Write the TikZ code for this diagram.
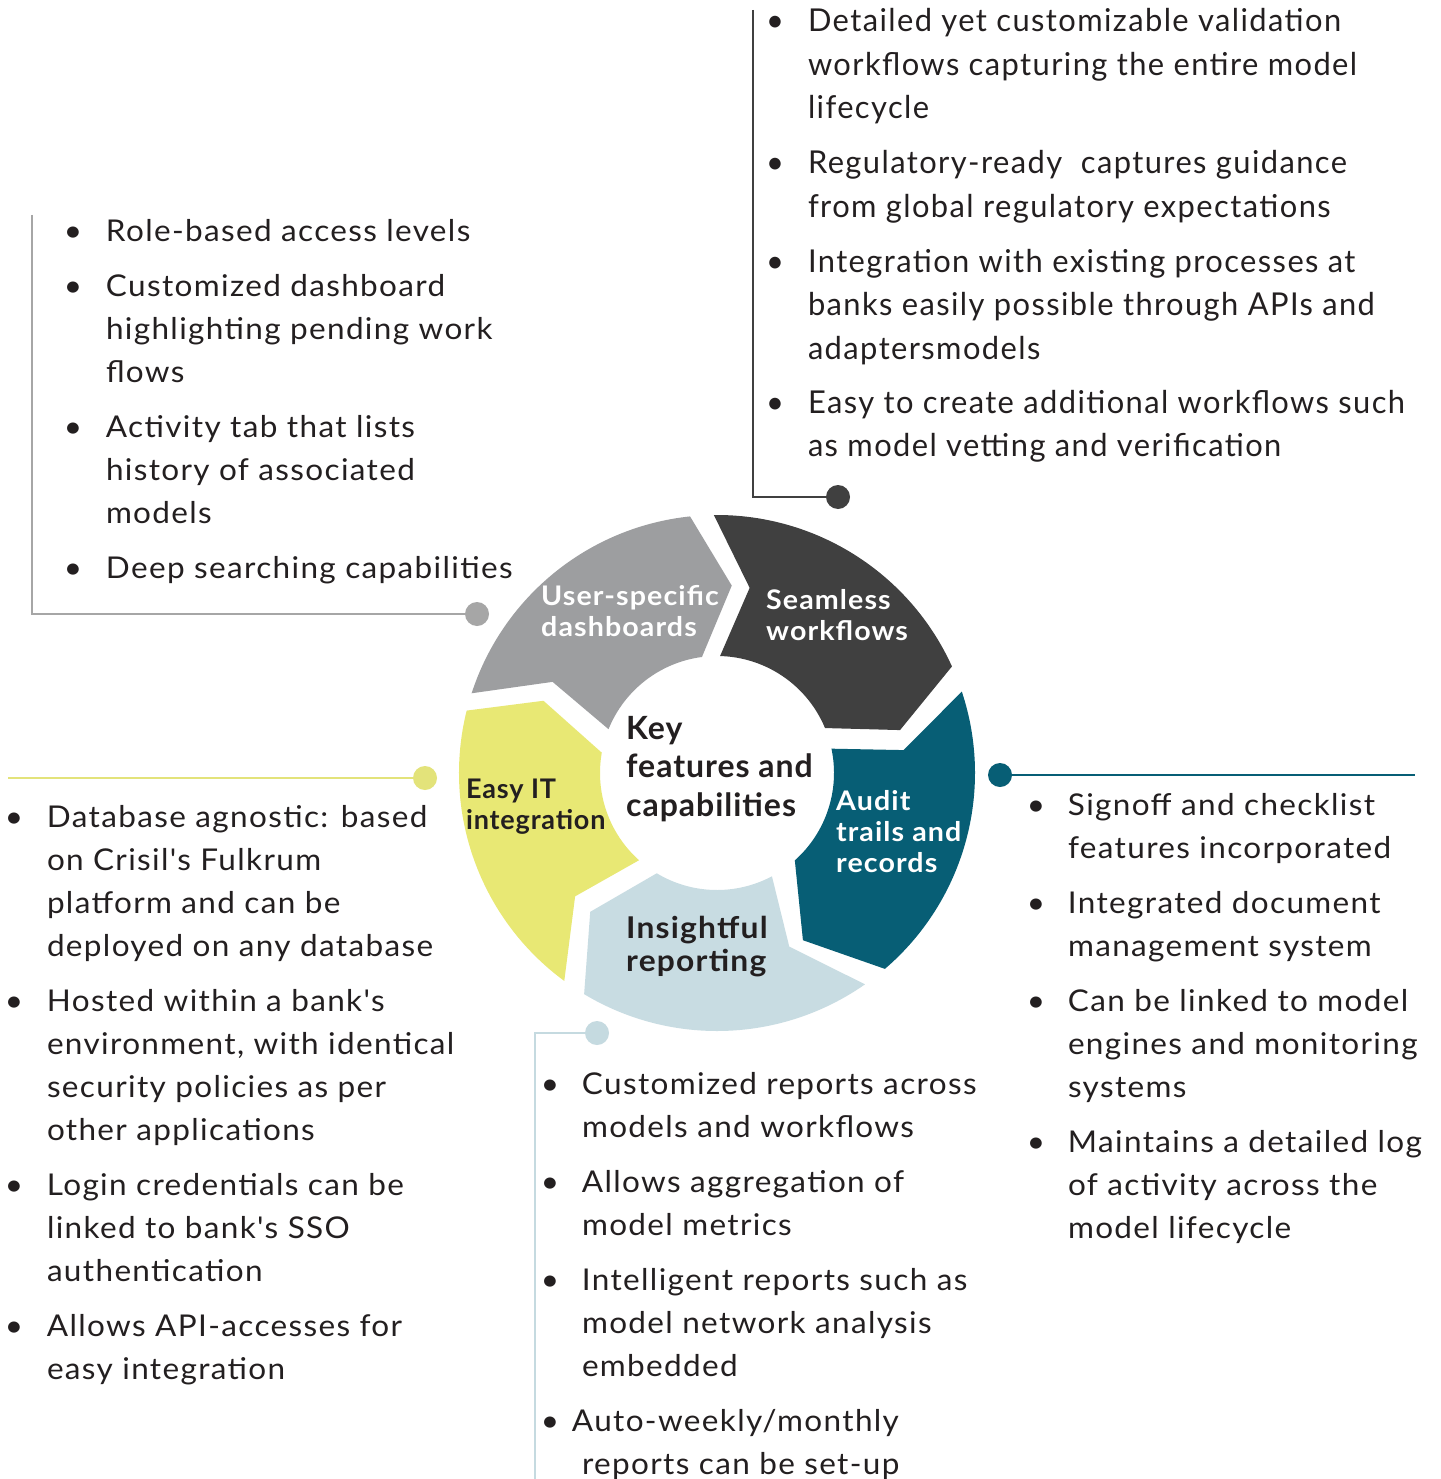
\documentclass[tikz,border=0pt]{standalone}
\usepackage{fontspec}
\setmainfont{Lato}
\newfontfamily\bodyfont[FakeStretch=1.05,LetterSpace=4.5]{Lato}
\newfontfamily\condfont[FakeStretch=0.98,LetterSpace=4.5]{Lato}
\newfontfamily\labfont[FakeStretch=1.06,LetterSpace=4]{Lato}
\newfontfamily\keyfont[LetterSpace=3]{Lato}
\definecolor{segGray}{HTML}{9D9EA0}
\definecolor{segDark}{HTML}{404040}
\definecolor{segTeal}{HTML}{075E75}
\definecolor{segBlue}{HTML}{C8DCE2}
\definecolor{segYellow}{HTML}{E8E874}
\definecolor{txt}{HTML}{231F20}
\definecolor{lnGray}{HTML}{A6A6A6}
\definecolor{lnBlue}{HTML}{C5DAE0}
\definecolor{lnYellow}{HTML}{E3E37A}
\newcommand{\ringseg}[7]{\fill[#1] (#2:258pt) arc[start angle=#2,end angle=#5,radius=258pt] -- (#7:188pt) -- (#6:117pt) arc[start angle=#6,end angle=#3,radius=117pt] -- (#4:188pt) -- cycle;}
\newcommand{\lines}[1]{\begin{tabular}[t]{@{}l@{}}#1\end{tabular}}
\newcommand{\bul}{\makebox[0pt]{\textbullet}}
\tikzset{
  item/.style={anchor=base west, inner sep=0pt, outer sep=0pt, text=txt, font=\bodyfont\fontsize{30}{43}\selectfont},
  itemc/.style={item, font=\condfont\fontsize{31.5}{43.5}\selectfont},
  seglabel/.style={anchor=base west, inner sep=0pt, font=\labfont\bfseries\fontsize{27}{31}\selectfont},
  dot/.style={circle, inner sep=0pt, minimum size=24pt},
  leader/.style={line width=2.5pt}
}
\begin{document}
\begin{tikzpicture}[x=1pt,y=-1pt]
\useasboundingbox[fill=white] (0,0) rectangle (1440,1479);
% ring
\begin{scope}[shift={(717,773)}]
\ringseg{segGray}{162}{158}{151}{96}{97.4}{85.5}
\ringseg{segDark}{90.7}{88.5}{80}{24.4}{22.6}{13.2}
\ringseg{segTeal}{18.4}{12}{7}{-49.4}{-48.3}{-62.8}
\ringseg{segBlue}{-55}{-62}{-67.4}{-121}{-121}{-132.4}
\ringseg{segYellow}{-126.3}{-131.8}{-139}{-194}{-190}{-202.6}
\end{scope}
% ring labels
\node[seglabel, text=white] (lUser) at (541,605) {\lines{User-specific\\dashboards}};
\node[seglabel, text=white] (lSeam) at (766,609) {\lines{Seamless\\workflows}};
\node[seglabel, text=white] (lAudit) at (836,810) {\lines{Audit\\trails and\\records}};
\node[seglabel, text=txt, font=\labfont\bfseries\fontsize{30}{33}\selectfont] (lRep) at (626,938) {\lines{Insightful\\reporting}};
\node[seglabel, text=txt, font=\keyfont\bfseries\fontsize{27}{31}\selectfont] (lEasy) at (466,798) {\lines{Easy IT\\integration}};
\node[seglabel, text=txt, font=\keyfont\bfseries\fontsize{32}{38.5}\selectfont] (lKey) at (626,739) {\lines{Key\\features and\\capabilities}};
% leaders
\coordinate (cA) at (32,215);
\node[dot, fill=lnGray] (dA) at (477,614) {};
\draw[leader, lnGray] (cA) |- (dA);
\coordinate (cB) at (753,10);
\node[dot, fill=segDark] (dB) at (838,497) {};
\draw[leader, segDark] (cB) |- (dB);
\node[dot, fill=segTeal] (dC) at (1000,775) {};
\coordinate (cC) at (1415,775);
\draw[leader, segTeal] (dC) -- (cC);
\node[dot, fill=lnBlue] (dD) at (597,1033) {};
\coordinate (cD) at (535,1479);
\draw[leader, lnBlue] (dD) -| (cD);
\coordinate (cE) at (8,778);
\node[dot, fill=lnYellow] (dE) at (425,778) {};
\draw[leader, lnYellow] (cE) -- (dE);
% block A
\node[item] (a1) at (73,241) {\bul\hspace{33pt}\lines{Role-based access levels}};
\node[item] (a2) at (73,296) {\bul\hspace{33pt}\lines{Customized dashboard\\highlighting pending work\\flows}};
\node[item] (a3) at (73,437) {\bul\hspace{33pt}\lines{Activity tab that lists\\history of associated\\models}};
\node[item] (a4) at (73,578) {\bul\hspace{33pt}\lines{Deep searching capabilities}};
% block B
\node[itemc] (b1) at (775,32) {\bul\hspace{33pt}\lines{Detailed yet customizable validation\\workflows capturing the entire model\\lifecycle}};
\node[itemc] (b2) at (775,174) {\bul\hspace{33pt}\lines{Regulatory-ready~ captures guidance\\from global regulatory expectations}};
\node[itemc] (b3) at (775,272) {\bul\hspace{33pt}\lines{Integration with existing processes at\\banks easily possible through APIs and\\adaptersmodels}};
\node[itemc] (b4) at (775,413) {\bul\hspace{33pt}\lines{Easy to create additional workflows such\\as model vetting and verification}};
% block C
\node[item] (c1) at (1036,815) {\bul\hspace{32pt}\lines{Signoff and checklist\\features incorporated}};
\node[item] (c2) at (1036,913) {\bul\hspace{32pt}\lines{Integrated document\\management system}};
\node[item] (c3) at (1036,1011) {\bul\hspace{32pt}\lines{Can be linked to model\\engines and monitoring\\systems}};
\node[item] (c4) at (1036,1152) {\bul\hspace{32pt}\lines{Maintains a detailed log\\of activity across the\\model lifecycle}};
% block D
\node[item] (d1) at (550,1094) {\bul\hspace{32pt}\lines{Customized reports across\\models and workflows}};
\node[item] (d2) at (550,1192) {\bul\hspace{32pt}\lines{Allows aggregation of\\model metrics}};
\node[item] (d3) at (550,1290) {\bul\hspace{32pt}\lines{Intelligent reports such as\\model network analysis\\embedded}};
\node[item] (d4) at (550,1431) {\bul\hspace{22pt}\lines{Auto-weekly/monthly\\\hspace{10pt}reports can be set-up}};
% block E
\node[item] (e1) at (14,827) {\bul\hspace{33pt}\lines{Database agnostic: based\\on Crisil's Fulkrum\\platform and can be\\deployed on any database}};
\node[item] (e2) at (14,1011) {\bul\hspace{33pt}\lines{Hosted within a bank's\\environment, with identical\\security policies as per\\other applications}};
\node[item] (e3) at (14,1195) {\bul\hspace{33pt}\lines{Login credentials can be\\linked to bank's SSO\\authentication}};
\node[item] (e4) at (14,1336) {\bul\hspace{33pt}\lines{Allows API-accesses for\\easy integration}};
\end{tikzpicture}
\end{document}
